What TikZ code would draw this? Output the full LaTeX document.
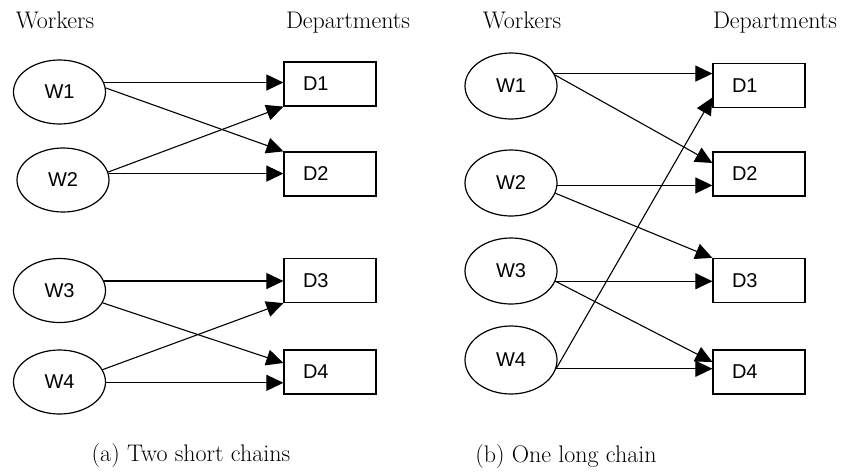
\documentclass[tikz,border=0pt]{standalone}
\usepackage{fontspec}
\newfontfamily\arialfnt{Liberation Sans}
\usetikzlibrary{shapes.geometric, arrows.meta}

\begin{document}
\begin{tikzpicture}[x=1pt, y=-1pt,
    worker/.style={draw, ellipse, line width=1.2pt, minimum width=92pt, minimum height=64pt, inner sep=0pt, font=\arialfnt\fontsize{20}{22}\selectfont},
    dept/.style={draw, rectangle, line width=1.2pt, minimum height=44pt, text width=54pt, inner xsep=19pt, align=left, font=\arialfnt\fontsize{20}{22}\selectfont},
    flow/.style={line width=1.1pt, -{Triangle[length=17pt, width=16pt]}},
    heading/.style={anchor=base, font=\fontsize{24}{28}\selectfont}]
    \useasboundingbox (0,0) rectangle (842,471);
    % (a) dos cadenas cortas
    \node [heading] (wa) at (55,28) {Workers};
    \node [heading] (da) at (348,28) {Departments};
    \node [worker] (aW1) at (59.5,92) {W1};
    \node [worker] (aW2) at (63,180) {W2};
    \node [worker] (aW3) at (59.5,290.5) {W3};
    \node [worker] (aW4) at (59.5,382) {W4};
    \node [dept] (aD1) at (330,84) {D1};
    \node [dept] (aD2) at (330,174) {D2};
    \node [dept] (aD3) at (330,280.5) {D3};
    \node [dept] (aD4) at (330,372) {D4};
    \draw [flow] (aW1.12) -- (aW1.12 -| aD1.west);
    \draw [flow] (aW1.5) -- (aD2.north west);
    \draw [flow] (aW2.10) -- (aD1.south west);
    \draw [flow] (aW2.8) -- (aW2.8 -| aD2.west);
    \draw [flow] (aW3.12) -- (aW3.12 -| aD3.west);
    \draw [flow] (aW3.-16) -- ([yshift=9pt]aD4.west);
    \draw [flow] (aW4.16) -- (aD3.south west);
    \draw [flow] (aW4.-1) -- (aW4.-1 -| aD4.west);
    \node [heading] (capa) at (191,461) {(a) Two short chains};
    % (b) una cadena larga
    \node [heading] (wb) at (522,28) {Workers};
    \node [heading] (db) at (775,28) {Departments};
    \node [worker, minimum height=66pt] (bW1) at (511,86) {W1};
    \node [worker, minimum height=66pt] (bW2) at (511,183) {W2};
    \node [worker, minimum height=66pt] (bW3) at (511,271) {W3};
    \node [worker, minimum height=68pt] (bW4) at (511,360) {W4};
    \node [dept] (bD1) at (759,85.5) {D1};
    \node [dept] (bD2) at (759,174) {D2};
    \node [dept] (bD3) at (759,280.5) {D3};
    \node [dept] (bD4) at (759,372) {D4};
    \draw [flow] (bW1.16) -- (bW1.16 -| bD1.west);
    \draw [flow] (bW1.14) -- ([yshift=11pt]bD2.west);
    \draw [flow] (bW2.-3) -- (bW2.-3 -| bD2.west);
    \draw [flow] (bW2.-13) -- (bD3.north west);
    \draw [flow] (bW3.-13) -- (bW3.-13 -| bD3.west);
    \draw [flow] (bW3.-13) -- ([yshift=10pt]bD4.west);
    \draw [flow] (bW4.-11) -- ([yshift=-12pt]bD1.west);
    \draw [flow] (bW4.-11) -- (bW4.-11 -| bD4.west);
    \node [heading] (capb) at (566,462) {(b) One long chain};
\end{tikzpicture}
\end{document}
